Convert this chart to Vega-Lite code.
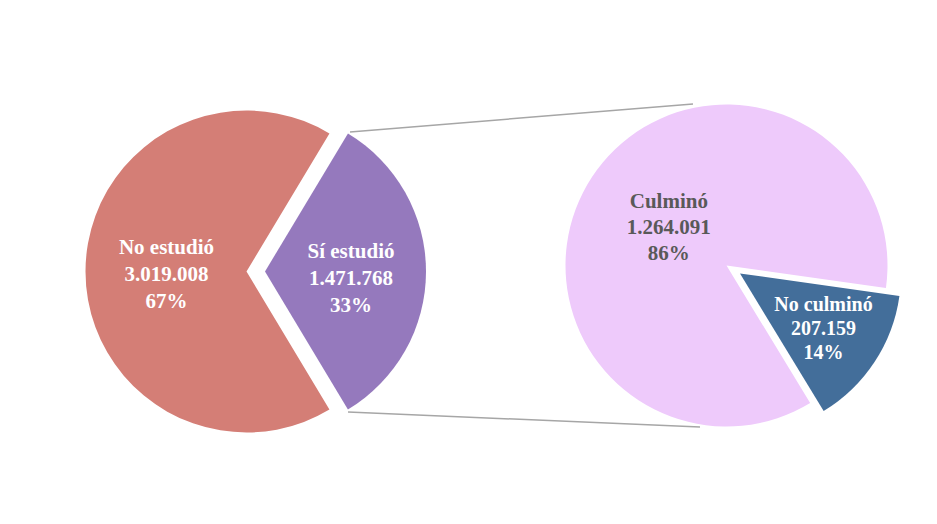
{
  "$schema": "https://vega.github.io/schema/vega-lite/v6.json",
  "autosize": {"type": "fit", "contains": "padding"},
  "width": 937,
  "height": 524,
  "padding": {"left": 8, "top": 15, "right": 0, "bottom": 0},
  "background": "white",
  "view": {"stroke": null},
  "datasets": {
    "left": [
      {"pie": "L", "cat": "No estudió", "value": 3019008, "label": "No estudió\n3.019.008\n67%"},
      {"pie": "L", "cat": "Sí estudió", "value": 1471768, "label": "Sí estudió\n1.471.768\n33%"}
    ],
    "right": [
      {"pie": "R", "cat": "Culminó", "value": 1264091, "label": "Culminó\n1.264.091\n86%"},
      {"pie": "R", "cat": "No culminó", "value": 207159, "label": "No culminó\n207.159\n14%"}
    ],
    "links": [
      {"from": "L", "to": "R", "row": "c"}
    ]
  },
  "resolve": {"scale": {"theta": "independent"}},
  "layer": [
    {
      "data": {"name": "links"},
      "mark": {"type": "rule", "color": "#A6A6A6", "strokeWidth": 1.5, "xOffset": 103.5, "x2Offset": -33.5, "yOffset": -137.5, "y2Offset": -165.5},
      "encoding": {
        "x": {"field": "from", "type": "nominal", "scale": {"type": "point", "domain": ["L", "R"], "padding": 0.46771, "align": 0.53118}, "axis": null},
        "x2": {"field": "to"},
        "y": {"field": "row", "type": "nominal", "axis": null},
        "y2": {"field": "row"}
      }
    },
    {
      "data": {"name": "links"},
      "mark": {"type": "rule", "color": "#A6A6A6", "strokeWidth": 1.5, "xOffset": 101.5, "x2Offset": -26.5, "yOffset": 142.5, "y2Offset": 157.5},
      "encoding": {
        "x": {"field": "from", "type": "nominal", "axis": null},
        "x2": {"field": "to"},
        "y": {"field": "row", "type": "nominal", "axis": null},
        "y2": {"field": "row"}
      }
    },
    {
      "data": {"name": "left"},
      "mark": {"type": "arc", "outerRadius": 161, "yOffset": 2},
      "encoding": {
        "x": {"field": "pie", "type": "nominal", "axis": null},
        "theta": {"field": "value", "type": "quantitative", "stack": true, "scale": {"range": [2.6005, 8.8837]}},
        "order": {"field": "cat", "sort": "ascending"},
        "fill": {"condition": {"test": "datum.cat === 'No estudió'", "value": "#D47E76"}, "value": "rgba(0,0,0,0)"}
      }
    },
    {
      "data": {"name": "left"},
      "mark": {"type": "arc", "outerRadius": 161, "xOffset": 18.5, "yOffset": 2},
      "encoding": {
        "x": {"field": "pie", "type": "nominal", "axis": null},
        "theta": {"field": "value", "type": "quantitative", "stack": true, "scale": {"range": [2.6005, 8.8837]}},
        "order": {"field": "cat", "sort": "ascending"},
        "fill": {"condition": {"test": "datum.cat === 'Sí estudió'", "value": "#9579BD"}, "value": "rgba(0,0,0,0)"}
      }
    },
    {
      "data": {"name": "right"},
      "mark": {"type": "arc", "outerRadius": 161, "yOffset": -4},
      "encoding": {
        "x": {"field": "pie", "type": "nominal", "axis": null},
        "theta": {"field": "value", "type": "quantitative", "stack": true, "scale": {"range": [2.5951, 8.8783]}},
        "order": {"field": "cat", "sort": "ascending"},
        "fill": {"condition": {"test": "datum.cat === 'Culminó'", "value": "#EECAFB"}, "value": "rgba(0,0,0,0)"}
      }
    },
    {
      "data": {"name": "right"},
      "mark": {"type": "arc", "outerRadius": 161, "xOffset": 13.5, "yOffset": 4},
      "encoding": {
        "x": {"field": "pie", "type": "nominal", "axis": null},
        "theta": {"field": "value", "type": "quantitative", "stack": true, "scale": {"range": [2.5951, 8.8783]}},
        "order": {"field": "cat", "sort": "ascending"},
        "fill": {"condition": {"test": "datum.cat === 'No culminó'", "value": "#436E9A"}, "value": "rgba(0,0,0,0)"}
      }
    },
    {
      "data": {"name": "left"},
      "mark": {"type": "text", "radius": 80, "yOffset": -21.5, "font": "Liberation Serif", "fontWeight": "bold", "fontSize": 21, "lineBreak": "\n", "lineHeight": 27, "fill": "white", "align": "center", "baseline": "middle"},
      "encoding": {
        "x": {"field": "pie", "type": "nominal", "axis": null},
        "theta": {"field": "value", "type": "quantitative", "stack": true, "scale": {"range": [2.6005, 8.8837]}},
        "order": {"field": "cat", "sort": "ascending"},
        "text": {"field": "label"},
        "opacity": {"condition": {"test": "datum.cat === 'No estudió'", "value": 1}, "value": 0}
      }
    },
    {
      "data": {"name": "left"},
      "mark": {"type": "text", "radius": 86, "xOffset": 18.5, "yOffset": -17.5, "font": "Liberation Serif", "fontWeight": "bold", "fontSize": 21, "lineBreak": "\n", "lineHeight": 27, "fill": "white", "align": "center", "baseline": "middle"},
      "encoding": {
        "x": {"field": "pie", "type": "nominal", "axis": null},
        "theta": {"field": "value", "type": "quantitative", "stack": true, "scale": {"range": [2.6005, 8.8837]}},
        "order": {"field": "cat", "sort": "ascending"},
        "text": {"field": "label"},
        "opacity": {"condition": {"test": "datum.cat === 'Sí estudió'", "value": 1}, "value": 0}
      }
    },
    {
      "data": {"name": "right"},
      "mark": {"type": "text", "radius": 69, "yOffset": -30, "font": "Liberation Serif", "fontWeight": "bold", "fontSize": 21, "lineBreak": "\n", "lineHeight": 26, "fill": "#595959", "align": "center", "baseline": "middle"},
      "encoding": {
        "x": {"field": "pie", "type": "nominal", "axis": null},
        "theta": {"field": "value", "type": "quantitative", "stack": true, "scale": {"range": [2.5951, 8.8783]}},
        "order": {"field": "cat", "sort": "ascending"},
        "text": {"field": "label"},
        "opacity": {"condition": {"test": "datum.cat === 'Culminó'", "value": 1}, "value": 0}
      }
    },
    {
      "data": {"name": "right"},
      "mark": {"type": "text", "radius": 100, "xOffset": 13.5, "yOffset": -19, "font": "Liberation Serif", "fontWeight": "bold", "fontSize": 20, "lineBreak": "\n", "lineHeight": 24, "fill": "white", "align": "center", "baseline": "middle"},
      "encoding": {
        "x": {"field": "pie", "type": "nominal", "axis": null},
        "theta": {"field": "value", "type": "quantitative", "stack": true, "scale": {"range": [2.5951, 8.8783]}},
        "order": {"field": "cat", "sort": "ascending"},
        "text": {"field": "label"},
        "opacity": {"condition": {"test": "datum.cat === 'No culminó'", "value": 1}, "value": 0}
      }
    }
  ]
}
